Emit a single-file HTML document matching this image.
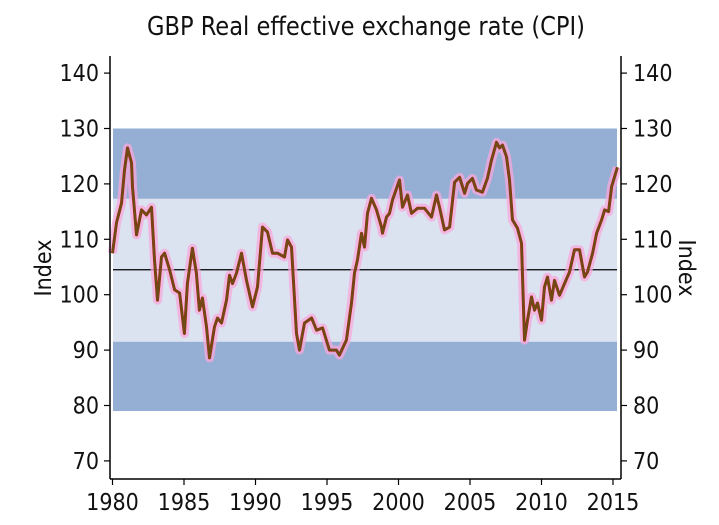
<!DOCTYPE html>
<html><head><meta charset="utf-8"><style>
html,body{margin:0;padding:0;background:#fff;width:719px;height:525px;overflow:hidden}
svg text{font-family:"DejaVu Sans Condensed","Liberation Sans Narrow","Liberation Sans",sans-serif;font-stretch:condensed;fill:#111}
</style></head><body>
<svg id="chart" width="719" height="525" xmlns="http://www.w3.org/2000/svg">
<text x="366" y="35" font-size="26" text-anchor="middle" textLength="438" lengthAdjust="spacingAndGlyphs">GBP Real effective exchange rate (CPI)</text>
<g id="bands"></g><g id="series"></g><g id="axes"></g>
</svg>
<script>
const years=[1980,1980.28,1980.63,1980.84,1981.05,1981.33,1981.40,1981.68,1982.03,1982.38,1982.73,1982.94,1983.15,1983.43,1983.64,1983.99,1984.34,1984.69,1985.03,1985.24,1985.59,1985.87,1986.08,1986.29,1986.57,1986.78,1987.13,1987.34,1987.62,1987.97,1988.18,1988.39,1988.67,1989.02,1989.37,1989.79,1990.14,1990.49,1990.84,1991.19,1991.54,1992.03,1992.24,1992.52,1992.87,1993.08,1993.43,1993.92,1994.27,1994.69,1995.17,1995.66,1995.87,1996.36,1996.71,1996.92,1997.13,1997.41,1997.62,1997.83,1998.11,1998.46,1998.81,1998.88,1999.16,1999.37,1999.58,2000.07,2000.28,2000.63,2000.91,2001.33,2001.82,2002.31,2002.66,2002.87,2003.22,2003.57,2003.92,2004.27,2004.62,2004.83,2005.17,2005.45,2005.87,2006.22,2006.50,2006.85,2007.06,2007.27,2007.55,2007.76,2007.97,2008.32,2008.60,2008.81,2009.02,2009.30,2009.51,2009.72,2010.0,2010.21,2010.42,2010.70,2010.91,2011.26,2011.61,2011.96,2012.31,2012.66,2013.01,2013.22,2013.57,2013.85,2014.20,2014.41,2014.69,2014.90,2015.10,2015.31];
const values=[107.5,113,116.5,122.5,126.5,123.8,119.5,110.8,115.3,114.4,115.8,106.3,99,106.8,107.5,104.5,100.9,100.3,93,102,108.4,103.9,97.2,99.4,94.2,88.6,94.2,95.8,94.9,99,103.5,102,103.9,107.5,102.6,97.8,101.4,112.2,111.3,107.5,107.5,106.8,109.9,108.6,93,90,94.9,95.8,93.6,94,90,90,89.1,91.8,98.5,103.9,106.3,111.1,108.6,114.7,117.4,115.3,112.2,111.1,114,114.7,117.1,120.7,115.8,118,114.7,115.6,115.6,114,118,115.8,111.7,112.2,120.3,121.2,118.3,120.1,121,118.9,118.5,121,124.3,127.5,126.5,127,124.9,120.7,113.5,112,109.3,91.8,95.4,99.6,97.2,98.5,95.4,101.4,103.2,99,102.6,99.9,102,104.1,108.1,108.1,103.2,104.1,107.5,111.1,113.5,115.3,115,119.5,121.2,123];
const yTicks=[70,80,90,100,110,120,130,140];
const xTicks=[1980,1985,1990,1995,2000,2005,2010,2015];
const bandEdges=[130,117.3,91.5,79];
const meanValue=104.5;
const NS='http://www.w3.org/2000/svg';
function X(y){return 112.5+(y-1980)*14.3;}
function Y(v){return 128.5+(130-v)*5.54;}
function mk(tag,attrs,parent){const e=document.createElementNS(NS,tag);for(const k in attrs)e.setAttribute(k,attrs[k]);parent.appendChild(e);return e;}
const bands=document.getElementById('bands'),series=document.getElementById('series'),axes=document.getElementById('axes');
const bcol=['#95aed4','#dbe2f0','#95aed4'];
for(let i=0;i<3;i++){
 const r=mk('rect',{x:113,y:Y(bandEdges[i]),width:504,height:Y(bandEdges[i+1])-Y(bandEdges[i]),fill:bcol[i]},bands);
 
 
}
const ml=mk('line',{x1:113,x2:617,y1:Y(meanValue),y2:Y(meanValue),stroke:'#000','stroke-width':1.2},bands);


const d=years.map((y,i)=>(i?'L':'M')+X(y).toFixed(1)+','+Y(values[i]).toFixed(1)).join('');
const glow=mk('path',{d:d,fill:'none',stroke:'#f7a8dc','stroke-width':9,'stroke-opacity':0.75,'stroke-linejoin':'round'},series);


const red=mk('path',{d:d,fill:'none',stroke:'#c8140e','stroke-width':3,'stroke-linejoin':'round'},series);


const ln=mk('path',{d:d,fill:'none',stroke:'#6e4a14','stroke-width':2.4,'stroke-linejoin':'round'},series);


mk('line',{x1:110,x2:110,y1:56,y2:479,stroke:'#000','stroke-width':1.5},axes);
mk('line',{x1:621,x2:621,y1:56,y2:479,stroke:'#000','stroke-width':1.5},axes);
mk('line',{x1:110,x2:621,y1:479,y2:479,stroke:'#000','stroke-width':1.5},axes);
yTicks.forEach(v=>{
 const y=Y(v);
 mk('line',{x1:104,x2:110,y1:y,y2:y,stroke:'#000','stroke-width':1.2},axes);
 mk('line',{x1:621,x2:627,y1:y,y2:y,stroke:'#000','stroke-width':1.2},axes);
 const t=mk('text',{x:99,y:y+8,'font-size':23,'text-anchor':'end'},axes);t.textContent=v;
 
 
 const t2=mk('text',{x:633,y:y+8,'font-size':23},axes);t2.textContent=v;
 
 
});
xTicks.forEach(v=>{
 const x=X(v);
 mk('line',{x1:x,x2:x,y1:479,y2:485,stroke:'#000','stroke-width':1.2},axes);
 const t=mk('text',{x:x,y:510,'font-size':23,'text-anchor':'middle'},axes);t.textContent=v;
 
 
});
const yl=mk('text',{x:0,y:0,'font-size':23,'text-anchor':'middle',transform:'translate(51,268) rotate(-90)'},axes);yl.textContent='Index';


const yr=mk('text',{x:0,y:0,'font-size':23,'text-anchor':'middle',transform:'translate(679,268) rotate(90)'},axes);yr.textContent='Index';


</script>
</body></html>
